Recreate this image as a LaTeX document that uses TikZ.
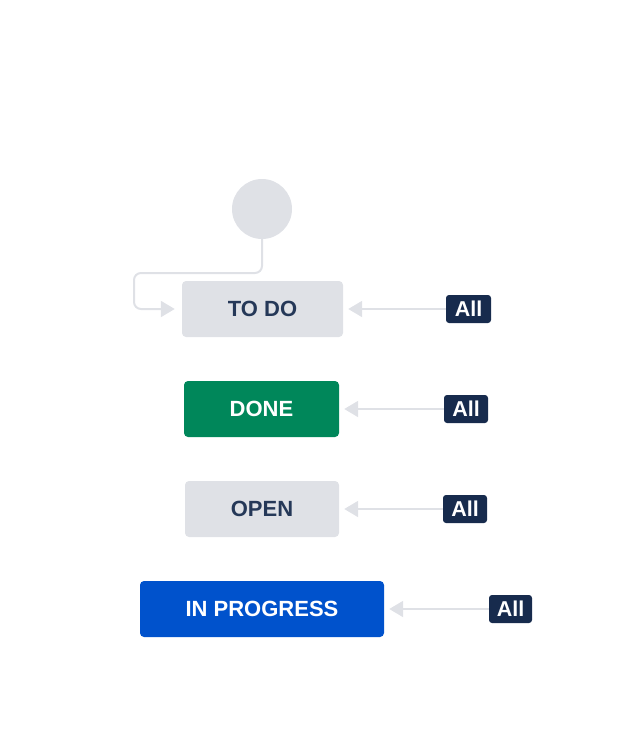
\documentclass[tikz,border=0pt]{standalone}
\usepackage{fontspec}
\setmainfont{Liberation Sans}
\usetikzlibrary{arrows.meta}
\definecolor{boxgray}{HTML}{DFE1E6}
\definecolor{linegray}{HTML}{DFE1E6}
\definecolor{darktext}{HTML}{253858}
\definecolor{badgeblue}{HTML}{172B4D}
\definecolor{donegreen}{HTML}{00875A}
\definecolor{progblue}{HTML}{0052CC}
\tikzset{
  status/.style={rounded corners=4pt, inner sep=0pt, minimum height=56pt,
    font=\fontsize{22}{26}\selectfont\bfseries},
  graybox/.style={status, fill=boxgray, text=darktext},
  badge/.style={rounded corners=3pt, inner sep=0pt, fill=badgeblue, text=white,
    minimum height=28pt, minimum width=44pt, font=\fontsize{21.5}{24}\selectfont\bfseries},
  conn/.style={draw=linegray, line width=2pt,
    -{Triangle[length=14pt,width=16pt,fill=linegray]}, shorten >=5pt},
}
\begin{document}
\begin{tikzpicture}[x=1pt,y=-1pt]
\useasboundingbox (0,0) rectangle (644,740);
\node[circle, fill=boxgray, minimum size=60pt, inner sep=0pt] (start) at (262,209) {};
\node[graybox, minimum width=161pt] (todo) at (262.5,309) {TO DO};
\node[status, fill=donegreen, text=white, minimum width=155pt] (done) at (261.5,409) {DONE};
\node[graybox, minimum width=154pt] (open) at (262,509) {OPEN};
\node[status, fill=progblue, text=white, minimum width=244pt] (prog) at (262,609) {IN PROGRESS};
\node[badge, minimum width=45pt] (b1) at (468.5,309) {All};
\node[badge] (b2) at (466,409) {All};
\node[badge] (b3) at (465,509) {All};
\node[badge, minimum width=43pt] (b4) at (510.5,609) {All};
\coordinate (bend) at (134,273);
\draw[conn, rounded corners=7pt, shorten >=7pt] (start.south) |- (bend) |- (todo.west);
\draw[conn] (b1.west) -- (todo.east);
\draw[conn] (b2.west) -- (done.east);
\draw[conn] (b3.west) -- (open.east);
\draw[conn] (b4.west) -- (prog.east);
\end{tikzpicture}
\end{document}
